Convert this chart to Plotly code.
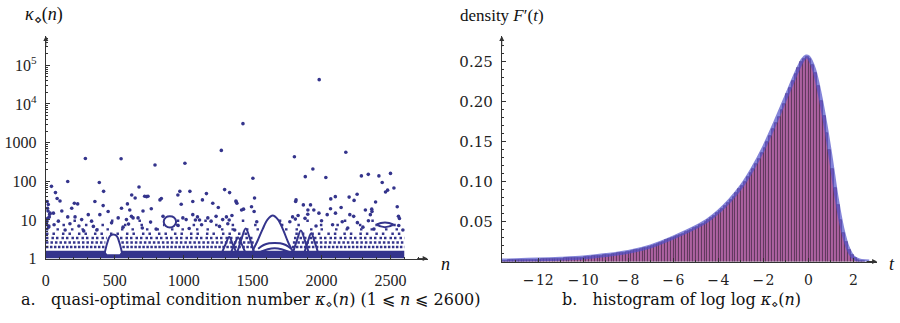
import plotly.graph_objects as go

# ---------------- Panel a: condition numbers ----------------
# dense solid band of points near kappa = 1
band_n = [1, 425, 445, 535, 555, 2600]
band_top = [1.6, 1.6, 1.3, 1.3, 1.6, 1.6]

# rows of densely packed points (kappa level, n-segments)
row_levels = [2.0, 2.6, 3.4, 4.4, 5.7, 7.4, 9.5]
row_segments = [
    [(1, 425), (555, 1515), (1785, 2600)],
    [(1, 432), (548, 1508), (1792, 2600)],
    [(1, 442), (538, 1500), (1800, 2600)],
    [(1, 1490), (1810, 2600)],
    [(1, 1565), (1735, 2600)],
    [(1, 860), (945, 1595), (1705, 2400), (2520, 2600)],
    [(1, 850), (950, 1610), (1690, 2600)],
]

# arcs formed by consecutive points
bell1650_n = [1500, 1536, 1572, 1608, 1646, 1684, 1720, 1755, 1790]
bell1650_k = [1.6, 2.9, 5.7, 10.2, 13.0, 10.2, 5.7, 2.8, 1.56]
dome1650_n = [1540, 1580, 1620, 1660, 1700, 1740, 1780]
dome1650_k = [1.8, 2.25, 2.5, 2.55, 2.5, 2.25, 1.8]
low1650_n = [1560, 1610, 1660, 1710, 1760]
low1650_k = [1.5, 1.75, 1.85, 1.75, 1.5]
bell1450_n = [1390, 1420, 1450, 1480, 1510]
bell1450_k = [1.5, 3.3, 6.0, 3.3, 1.5]
bell1330_n = [1280, 1305, 1330, 1355, 1380]
bell1330_k = [1.5, 2.4, 3.6, 2.4, 1.5]
bell1395_n = [1345, 1370, 1395, 1420, 1445]
bell1395_k = [1.5, 2.4, 3.5, 2.4, 1.5]
bell1850_n = [1795, 1822, 1850, 1878, 1905]
bell1850_k = [1.5, 3.0, 5.3, 3.0, 1.5]
bell1925_n = [1875, 1900, 1925, 1950, 1975]
bell1925_k = [1.4, 2.7, 4.5, 2.7, 1.4]
eye480_n = [425, 445, 465, 490, 515, 535, 555]
eye480_k = [1.3, 2.5, 3.8, 4.2, 3.8, 2.5, 1.3]
ring900_n = [855, 870, 900, 930, 945, 930, 900, 870, 855]
ring900_k = [9.0, 11.5, 12.4, 11.5, 9.0, 7.0, 6.4, 7.0, 9.0]
ring2460_n = [2400, 2430, 2460, 2490, 2520, 2490, 2460, 2430, 2400]
ring2460_k = [7.5, 8.3, 8.6, 8.3, 7.5, 6.8, 6.5, 6.8, 7.5]
arcs = [(bell1650_n, bell1650_k), (dome1650_n, dome1650_k), (low1650_n, low1650_k),
        (bell1450_n, bell1450_k), (bell1330_n, bell1330_k), (bell1395_n, bell1395_k),
        (bell1850_n, bell1850_k), (bell1925_n, bell1925_k), (eye480_n, eye480_k),
        (ring900_n, ring900_k), (ring2460_n, ring2460_k)]

# individually visible points
pts_n = [1983, 1430, 1273, 2176, 287, 546, 1009, 792, 1803, 1937, 2500, 2339, 2289, 2416,
         1882, 2031, 1502, 159, 388, 2440, 41, 676, 2525, 2464, 1297, 1333, 419, 972, 1045,
         1514, 623, 648, 731, 828, 70, 1165, 1136, 1381, 1815, 2067, 2100, 2200, 2236, 2549,
         2392, 2364, 82, 103, 356, 207, 231, 592, 416, 549, 188, 31, 55, 116, 452, 609, 7,
         159, 212, 308, 392, 525, 585, 633, 260, 332, 477, 91, 717, 741, 838, 958, 982, 1066,
         1211, 1251, 705, 765, 621, 669, 850, 994, 1018, 1066, 1175, 1235, 1283, 1199, 1100,
         1115, 1085, 1379, 1386, 1492, 1434, 1420, 1511, 1812, 1868, 1901, 1920, 1310, 1330,
         1350, 1790, 1810, 1830, 1880, 1900, 2479, 2258, 2142, 2065, 2101, 1944, 1981, 2041,
         2318, 2366, 2354, 2205, 2233, 2558, 2565,
         20, 60, 140, 175, 240, 275, 345, 370, 560, 600, 700, 760, 800, 960, 1040, 1130, 1260,
         1320, 1370, 1530, 1770, 1960, 2000, 2080, 2150, 2190, 2260, 2300, 2340, 2380, 2560, 2590,
         12, 18, 25, 14, 22, 10, 28, 16]
pts_k = [42600, 3100, 630, 565, 390, 382, 294, 263, 430, 208, 160, 151, 138, 138,
         132, 125, 120, 99, 93, 93, 74, 71, 67, 53, 61, 51, 55, 55, 55,
         37, 44, 37, 40, 33, 51, 48, 33, 29, 33, 35, 40, 39, 32, 22,
         29, 19, 36, 31, 30, 27, 26, 26, 23.5, 20, 20, 15, 15, 17, 16.6, 18, 9,
         12, 12, 13.7, 13.7, 11.3, 10.2, 11.3, 10.2, 9.3, 8.4, 9.3, 41, 41, 36, 44, 25.5, 30,
         27, 21, 17, 19.4, 12.4, 11.3, 12.4, 11.3, 10.2, 13.7, 11.3, 12.4, 10.2, 9.3, 12,
         10, 10, 31, 27, 22, 19, 18, 16.6, 30, 24.5, 18, 24.5, 12, 10,
         13, 12, 10.5, 13, 11, 14, 59, 46, 21, 19.4, 15, 18, 15, 13.7,
         18, 16.6, 13.7, 13.7, 12.4, 12.4, 10.9,
         6.5, 7.5, 5.5, 8, 7, 5.2, 6.8, 5.5, 6.5, 7.8, 6.2, 8.8, 5.8, 7.2, 6, 7.5, 6.8,
         8, 5.5, 9, 9, 7, 9.5, 7.5, 9, 6.2, 8.5, 6.5, 9.5, 5.8, 7.2, 5.5,
         20, 25, 12, 11, 7, 30, 14, 17]

x_ticks_a = [0, 500, 1000, 1500, 2000, 2500]
y_ticks_a = [1, 10, 100, 1000, 1e4, 1e5]
y_text_a = ["1", "10", "100", "1000", "10<sup>4</sup>", "10<sup>5</sup>"]

# ---------------- Panel b: histogram of log log kappa ----------------
hist_start = -13.625
hist_width = 0.125
hist_vals = [
    0.0011,
    0.0012, 0.0013, 0.0014, 0.0015,
    0.0016, 0.0017, 0.0018, 0.0019, 0.0020, 0.0021, 0.0023, 0.0024,
    0.0025, 0.0026, 0.0028, 0.0029, 0.0030, 0.0031, 0.0033, 0.0034,
    0.0036, 0.0038, 0.0040, 0.0041, 0.0043, 0.0045, 0.0047, 0.0049,
    0.0052, 0.0055, 0.0059, 0.0063, 0.0066, 0.0070, 0.0074, 0.0078,
    0.0082, 0.0087, 0.0092, 0.0097, 0.0102, 0.0107, 0.0112, 0.0117,
    0.0122, 0.0130, 0.0139, 0.0148, 0.0157, 0.0166, 0.0175, 0.0185,
    0.0195, 0.0208, 0.0222, 0.0236, 0.0250, 0.0264, 0.0278, 0.0292,
    0.0305, 0.0320, 0.0335, 0.0350, 0.0366, 0.0382, 0.0398, 0.0414,
    0.0433, 0.0450, 0.0470, 0.0490, 0.0520, 0.0545, 0.0570, 0.0600,
    0.0630, 0.0660, 0.0695, 0.0730, 0.0770, 0.0810, 0.0855, 0.0900,
    0.0945, 0.0995, 0.1050, 0.1105, 0.1160, 0.1220, 0.1285, 0.1350,
    0.1420, 0.1495, 0.1570, 0.1650, 0.1730, 0.1810, 0.1890, 0.1970,
    0.2090, 0.2170, 0.2250, 0.2340, 0.2420, 0.2490, 0.2535, 0.2555,
    0.2530, 0.2450, 0.2350, 0.2190, 0.2010, 0.1820, 0.1610, 0.1390,
    0.1160, 0.0920, 0.0700, 0.0520, 0.0360, 0.0240, 0.0140, 0.0080,
    0.0045, 0.0025, 0.0012, 0.0005,
]
curve_t = [-13.62, -13, -12, -11, -10, -9, -8, -7, -6, -5, -4.5, -4, -3.5, -3, -2.5, -2,
           -1.5, -1, -0.5, -0.25, -0.1, 0, 0.25, 0.5, 0.75, 1.0, 1.25, 1.5, 1.75, 2.0,
           2.25, 2.5, 2.7]
curve_f = [0.0011, 0.0016, 0.0025, 0.0035, 0.005, 0.008, 0.012, 0.019, 0.030, 0.043,
           0.051, 0.062, 0.076, 0.093, 0.115, 0.141, 0.172, 0.205, 0.238, 0.252, 0.256,
           0.255, 0.240, 0.210, 0.172, 0.128, 0.080, 0.042, 0.017, 0.005, 0.0015, 0.0003,
           0.0]
x_ticks_b = [-12, -10, -8, -6, -4, -2, 0, 2]
x_text_b = ["\u2212\u200a12", "\u2212\u200a10", "\u2212\u200a8", "\u2212\u200a6",
            "\u2212\u200a4", "\u2212\u200a2", "0", "2"]
y_ticks_b = [0.05, 0.10, 0.15, 0.20, 0.25]
y_text_b = ["0.05", "0.10", "0.15", "0.20", "0.25"]

# ---------------- figure ----------------
W, H = 900, 323
DOT = "rgb(52,52,140)"
AX = "#333333"
SERIF = "Liberation Serif"
WIDE = "DejaVu Serif"

fig = go.Figure()

# band
fig.add_trace(go.Scatter(
    x=band_n + band_n[::-1], y=band_top + [1] * len(band_n), fill="toself",
    mode="lines", line=dict(width=0), fillcolor=DOT, xaxis="x", yaxis="y",
    hoverinfo="skip", showlegend=False))

row_dash = ["2.5px,1.5px", "2.5px,2px", "2.5px,3px,2.5px,2px", "2.5px,4px,2.5px,7px",
            "2.5px,8px,2.5px,12px", "2.5px,14px,2.5px,20px", "2.5px,25px,2.5px,35px"]
for lvl, segs, dsh in zip(row_levels, row_segments, row_dash):
    xs, ys = [], []
    for a, b in segs:
        xs += [a, b, None]
        ys += [lvl, lvl, None]
    fig.add_trace(go.Scatter(x=xs, y=ys, mode="lines",
                             line=dict(color=DOT, width=2.4, dash=dsh),
                             xaxis="x", yaxis="y", showlegend=False, hoverinfo="skip"))

for an, ak in arcs:
    fig.add_trace(go.Scatter(x=an, y=ak, mode="lines",
                             line=dict(color=DOT, width=2, shape="spline"),
                             xaxis="x", yaxis="y", showlegend=False, hoverinfo="skip"))

fig.add_trace(go.Scatter(x=pts_n, y=pts_k, mode="markers",
                         marker=dict(color=DOT, size=3.6), cliponaxis=False,
                         xaxis="x", yaxis="y", showlegend=False))

centers = [hist_start + hist_width * (i + 0.5) for i in range(len(hist_vals))]
fig.add_trace(go.Bar(x=centers, y=hist_vals, width=hist_width,
                     marker=dict(color="rgb(172,98,160)",
                                 line=dict(color="rgb(60,30,62)", width=0.6)),
                     xaxis="x2", yaxis="y2", showlegend=False))
fig.add_trace(go.Scatter(x=curve_t, y=curve_f, mode="lines",
                         line=dict(color="rgba(80,80,200,0.7)", width=4, shape="spline",
                                   smoothing=0.8),
                         xaxis="x2", yaxis="y2", showlegend=False, cliponaxis=False))


def dom_x(a, b):
    return [a / W, b / W]


def dom_y(bottom_px, top_px):
    return [1 - bottom_px / H, 1 - top_px / H]


font_a = dict(family=SERIF, size=16, color="#222")
font_b = dict(family=WIDE, size=14, color="#222")
common = dict(showline=True, linecolor=AX, linewidth=1, showgrid=False, zeroline=False,
              ticks="inside", tickcolor=AX, ticklen=4)

fig.update_layout(
    width=W, height=H, margin=dict(l=0, r=0, t=0, b=0),
    paper_bgcolor="white", plot_bgcolor="white", bargap=0,
    font=dict(family=SERIF, color="#222"),
    xaxis=dict(domain=dom_x(42, 425.6), range=[0, 2770], anchor="y",
               tickmode="array", tickvals=x_ticks_a, ticklabelstandoff=7, tickfont=font_a,
               minor=dict(tickmode="array", tickvals=[v for v in range(100, 2800, 100)],
                          ticks="inside", ticklen=2, tickcolor=AX),
               **common),
    yaxis=dict(domain=dom_y(266, 37), type="log", range=[0, 5.76], anchor="x",
               tickmode="array", tickvals=y_ticks_a, ticktext=y_text_a, ticklabelstandoff=5,
               tickfont=font_a,
               minor=dict(tickmode="array",
                          tickvals=[m * 10 ** e for e in range(0, 6) for m in range(2, 10)],
                          ticks="inside", ticklen=2, tickcolor=AX),
               **common),
    xaxis2=dict(domain=dom_x(500, 877), range=[-13.62, 3.05], anchor="y2",
                tickmode="array", tickvals=x_ticks_b, ticktext=x_text_b, ticklabelstandoff=6,
                tickfont=font_b,
                minor=dict(tickmode="array", tickvals=[-13, -11, -9, -7, -5, -3, -1, 1],
                           ticks="inside", ticklen=2, tickcolor=AX),
                **common),
    yaxis2=dict(domain=dom_y(269, 37), range=[0, 0.2816], anchor="x2",
                tickmode="array", tickvals=y_ticks_b, ticktext=y_text_b, ticklabelstandoff=5,
                tickfont=dict(family=WIDE, size=15, color="#222"),
                minor=dict(tickmode="array",
                           tickvals=[i / 100 for i in range(1, 28) if i % 5],
                           ticks="inside", ticklen=2, tickcolor=AX),
                **common),
)

annots = []
# axis arrows
for (xp, yp, ax, ay) in [(425.6, 266, -12, 0), (42, 37, 0, 12), (877, 269, -12, 0), (500, 37, 0, 12)]:
    annots.append(dict(x=xp / W, y=1 - yp / H, xref="paper", yref="paper", text="",
                       showarrow=True, arrowhead=2, arrowsize=1, arrowwidth=1,
                       arrowcolor=AX, ax=ax, ay=ay))
lab = dict(family=SERIF, size=18, color="#111")
lab2 = dict(family=SERIF, size=17, color="#111")
cap = dict(family=WIDE, size=16, color="#111")
texts = [
    (40, 16, "<i>κ</i><sub>⋄</sub>(<i>n</i>)", lab),
    (443, 272, "<i>n</i>", lab),
    (500, 16, "density <i>F</i>′(<i>t</i>)", lab2),
    (892, 272, "<i>t</i>", lab),
    (248, 309, "a.   quasi-optimal condition number <i>κ</i><sub>⋄</sub>(<i>n</i>) (1 ⩽ <i>n</i> ⩽ 2600)", cap),
    (681, 309, "b.   histogram of log log <i>κ</i><sub>⋄</sub>(<i>n</i>)", cap),
]
for xp, yp, t, f in texts:
    annots.append(dict(x=xp / W, y=1 - yp / H, xref="paper", yref="paper", text=t,
                       showarrow=False, xanchor="center", yanchor="middle", font=f))
fig.update_layout(annotations=annots)

fig.write_html("out.html")
